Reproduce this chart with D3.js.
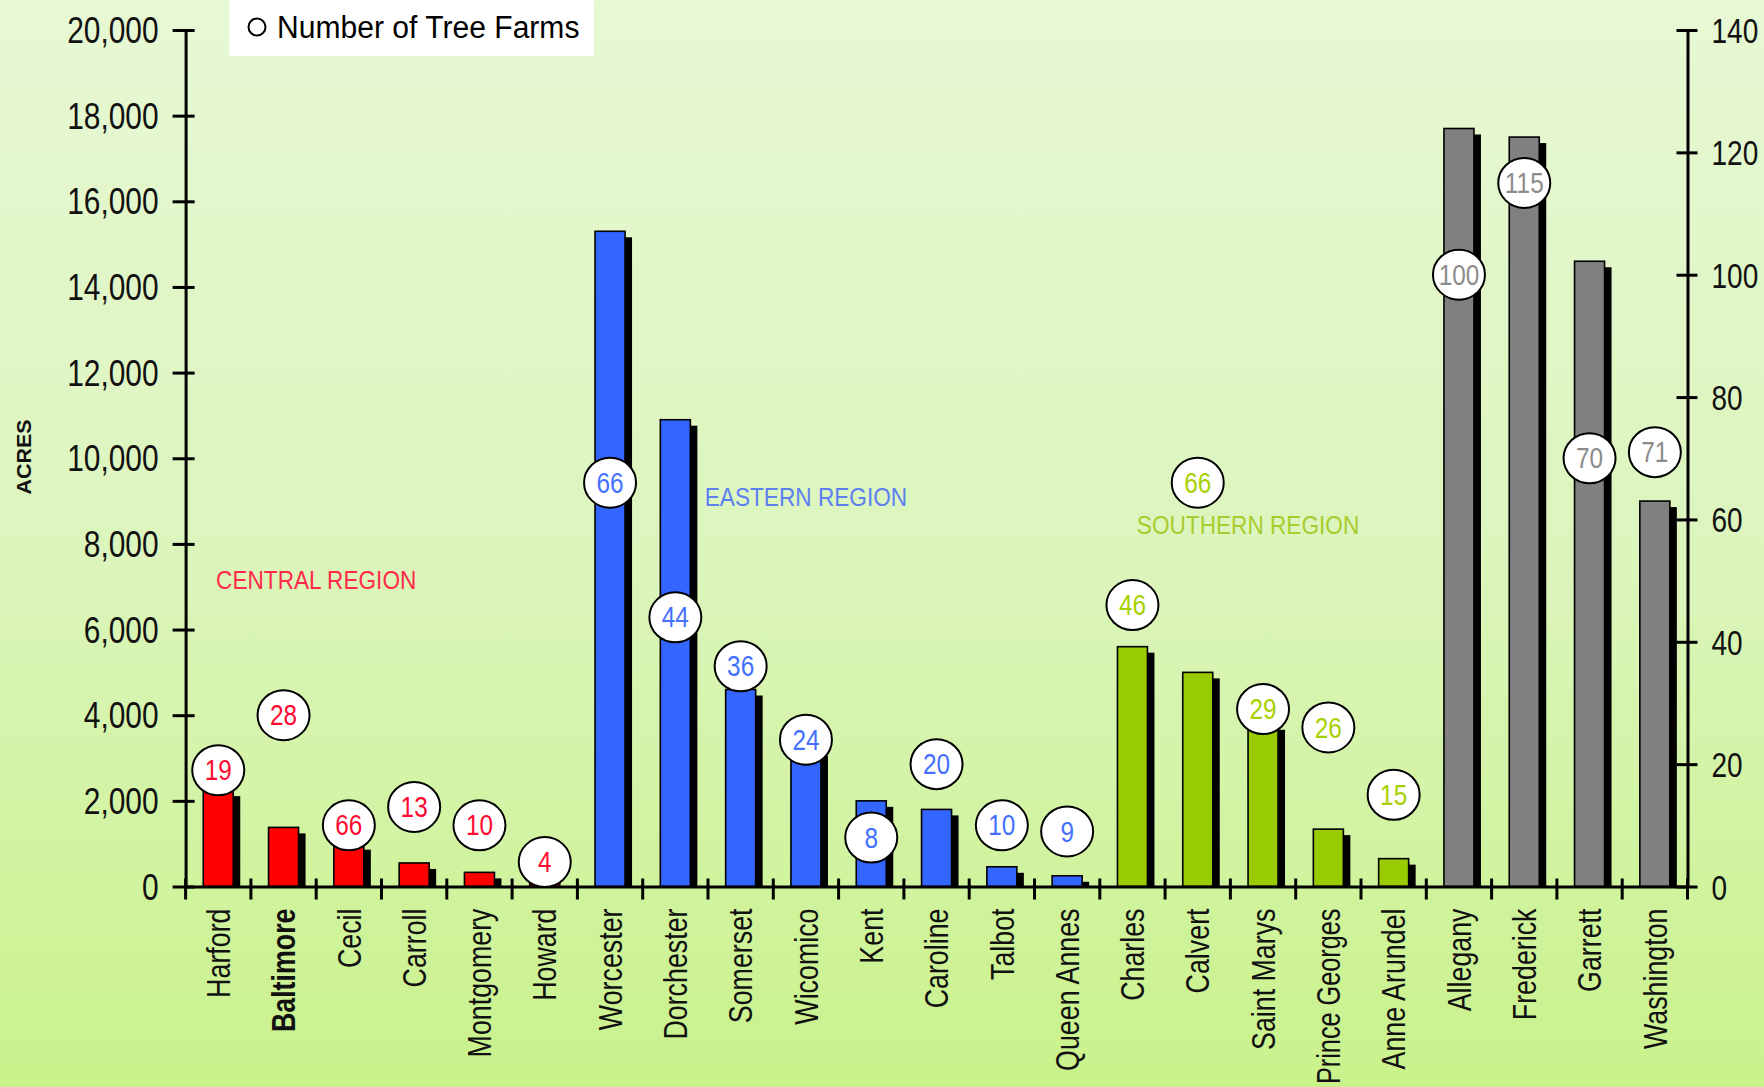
<!DOCTYPE html>
<html><head><meta charset="utf-8">
<script src="https://cdn.jsdelivr.net/npm/d3@7"></script>
<style>html,body{margin:0;padding:0;overflow:hidden;background:#e6f7d0}</style>
</head><body><svg id="chart" width="1764" height="1087"></svg>
<script>
// ---- data ----
const counties = ["Harford","Baltimore","Cecil","Carroll","Montgomery","Howard",
  "Worcester","Dorchester","Somerset","Wicomico","Kent","Caroline","Talbot","Queen Annes",
  "Charles","Calvert","Saint Marys","Prince Georges","Anne Arundel",
  "Allegany","Frederick","Garrett","Washington"];
const acres = [2250,1380,1000,550,330,80,
  15300,10900,4600,3200,2000,1800,460,250,
  5600,5000,3800,1340,650,
  17700,17500,14600,9000];
const farms = [19,28,10,13,10,4,
  66,44,36,24,8,20,10,9,
  46,66,29,26,15,
  100,115,70,71];
const farmLabels = ["19","28","66","13","10","4",
  "66","44","36","24","8","20","10","9",
  "46","66","29","26","15",
  "100","115","70","71"];
const regionOf = [0,0,0,0,0,0, 1,1,1,1,1,1,1,1, 2,2,2,2,2, 3,3,3,3];
const barColors = ["#ff0000","#3366ff","#99cc00","#808080"];
const bubbleTextColors = ["#ff0a30","#4470ff","#a8d000","#8c8c8c"];
const regionLabels = ["CENTRAL REGION","EASTERN REGION","SOUTHERN REGION"];
const regionLabelColors = ["#ff2a4a","#5c80f0","#a8cc2e"];
const regionLabelAcres = [7150, 9100, 8450];
const acresTicks = [0,2000,4000,6000,8000,10000,12000,14000,16000,18000,20000];
const farmTicks = [0,20,40,60,80,100,120,140];
const legendLabel = "Number of Tree Farms";
const yTitle = "ACRES";

// ---- layout ----
const W = 1764, H = 1087;
const plotL = 185.6, plotR = 1687.5, plotT = 30, plotB = 886.5;
const labelTop = plotB + 22;
const FONT = "'Liberation Sans', Arial, sans-serif";
const svg = d3.select("#chart");

const x = d3.scaleBand().domain(counties).range([plotL, plotR]).padding(0);
const yL = d3.scaleLinear().domain([0, 20000]).range([plotB, plotT]);
const yR = d3.scaleLinear().domain([0, 140]).range([plotB, plotT]);
const bw = x.bandwidth();
const barW = 30;

function condense(sel, k, maxLen) {
  sel.each(function() {
    const L = this.getComputedTextLength();
    let t = L * k;
    if (maxLen && t > maxLen) t = maxLen;
    d3.select(this).attr("textLength", t).attr("lengthAdjust", "spacingAndGlyphs");
  });
}

// background
const defs = svg.append("defs");
const grad = defs.append("linearGradient").attr("id","bg").attr("x1",0).attr("y1",0).attr("x2",0).attr("y2",1);
grad.append("stop").attr("offset","0%").attr("stop-color","#e7f8d4");
grad.append("stop").attr("offset","50%").attr("stop-color","#dcf5bd");
grad.append("stop").attr("offset","100%").attr("stop-color","#c9f28b");
svg.append("rect").attr("width",W).attr("height",H).attr("fill","url(#bg)");

// legend
svg.append("rect").attr("x",229.5).attr("y",0).attr("width",364.5).attr("height",56).attr("fill","#ffffff");
svg.append("circle").attr("cx",257).attr("cy",27).attr("r",8.5).attr("fill","#fff").attr("stroke","#000").attr("stroke-width",2);
svg.append("text").attr("x",277).attr("y",27).attr("dy","0.35em")
  .attr("font-family",FONT).attr("font-size",31).attr("fill","#000")
  .text(legendLabel).call(condense, 0.97);

// y title
svg.append("text").attr("transform","translate(24,457) rotate(-90)")
  .attr("text-anchor","middle").attr("dy","0.35em")
  .attr("font-family",FONT).attr("font-size",21).attr("font-weight","bold").attr("fill","#111")
  .text(yTitle).call(condense, 1.02);

// region labels
const regionX = [
  x("Cecil"),
  x("Wicomico") + bw / 2,
  x("Saint Marys") + bw * 0.27
];
svg.append("g").selectAll("text").data(regionLabels).join("text")
  .attr("x", (d,i) => regionX[i])
  .attr("y", (d,i) => yL(regionLabelAcres[i]))
  .attr("dy","0.35em").attr("text-anchor","middle")
  .attr("font-family",FONT).attr("font-size",26)
  .attr("fill",(d,i) => regionLabelColors[i])
  .text(d => d).call(condense, 0.87);

// bars with shadow
const data = counties.map((c,i) => ({c, a: acres[i], f: farms[i], lab: farmLabels[i], r: regionOf[i]}));
const cx = d => x(d.c) + bw / 2;
svg.append("g").selectAll("rect").data(data).join("rect")
  .attr("x", d => cx(d) - barW/2 + 7)
  .attr("y", d => Math.min(plotB, yL(d.a) + 6))
  .attr("width", barW)
  .attr("height", d => Math.max(0, plotB - yL(d.a) - 6))
  .attr("fill", "#000");
svg.append("g").selectAll("rect").data(data).join("rect")
  .attr("x", d => cx(d) - barW/2)
  .attr("y", d => yL(d.a))
  .attr("width", barW)
  .attr("height", d => plotB - yL(d.a))
  .attr("fill", d => barColors[d.r])
  .attr("stroke", "#000").attr("stroke-width", 1.6);

// left axis
const gL = svg.append("g").attr("transform", `translate(${plotL},0)`)
  .call(d3.axisLeft(yL).tickValues(acresTicks).tickFormat(d3.format(",")).tickSizeOuter(0));
gL.select(".domain").attr("stroke","#000").attr("stroke-width",3);
gL.selectAll(".tick line").attr("x1",-13).attr("x2",9).attr("stroke","#000").attr("stroke-width",3);
gL.selectAll(".tick text").attr("x",-27).attr("dy","0.35em")
  .attr("font-family",FONT).attr("font-size",36).attr("fill","#111").call(condense, 0.83);

// right axis (narrow look made by vertical stretch)
const gR = svg.append("g").attr("transform", `translate(${plotR},0)`)
  .call(d3.axisRight(yR).tickValues(farmTicks).tickSizeOuter(0));
gR.select(".domain").attr("stroke","#000").attr("stroke-width",3);
gR.selectAll(".tick line").attr("x1",-11).attr("x2",10).attr("stroke","#000").attr("stroke-width",3);
gR.selectAll(".tick text").attr("x",0).attr("dy","0.35em")
  .attr("transform","translate(24,0) scale(1,1.28)")
  .attr("font-family",FONT).attr("font-size",28).attr("fill","#111");

// bottom axis
const gB = svg.append("g").attr("transform", `translate(0,${plotB})`)
  .call(d3.axisBottom(x).tickSize(0).tickSizeOuter(0));
gB.select(".domain").attr("stroke","#000").attr("stroke-width",3);
gB.selectAll(".tick text")
  .attr("transform",`translate(0,${labelTop - plotB}) rotate(-90)`)
  .attr("x",0).attr("y",0).attr("dy","0.35em")
  .attr("text-anchor","end")
  .attr("font-family",FONT).attr("font-size",33.5).attr("fill","#111")
  .attr("font-weight", d => d === "Baltimore" ? "bold" : "normal")
  .call(condense, 0.8, H - 3 - labelTop);
const bounds = counties.map(c => x(c)).concat([plotR]);
gB.append("g").selectAll("line").data(bounds).join("line")
  .attr("x1", d => d).attr("x2", d => d).attr("y1", -8).attr("y2", 13)
  .attr("stroke","#000").attr("stroke-width",3);

// bubbles
const gBub = svg.append("g").selectAll("g").data(data).join("g")
  .attr("transform", d => `translate(${cx(d)},${yR(d.f)})`);
gBub.append("ellipse").attr("rx",26).attr("ry",25)
  .attr("fill","#fff").attr("stroke","#000").attr("stroke-width",2);
gBub.append("text").attr("text-anchor","middle").attr("dy","0.35em")
  .attr("font-family",FONT).attr("font-size",29)
  .attr("fill", d => bubbleTextColors[d.r])
  .text(d => d.lab).call(condense, 0.84);
</script></body></html>
